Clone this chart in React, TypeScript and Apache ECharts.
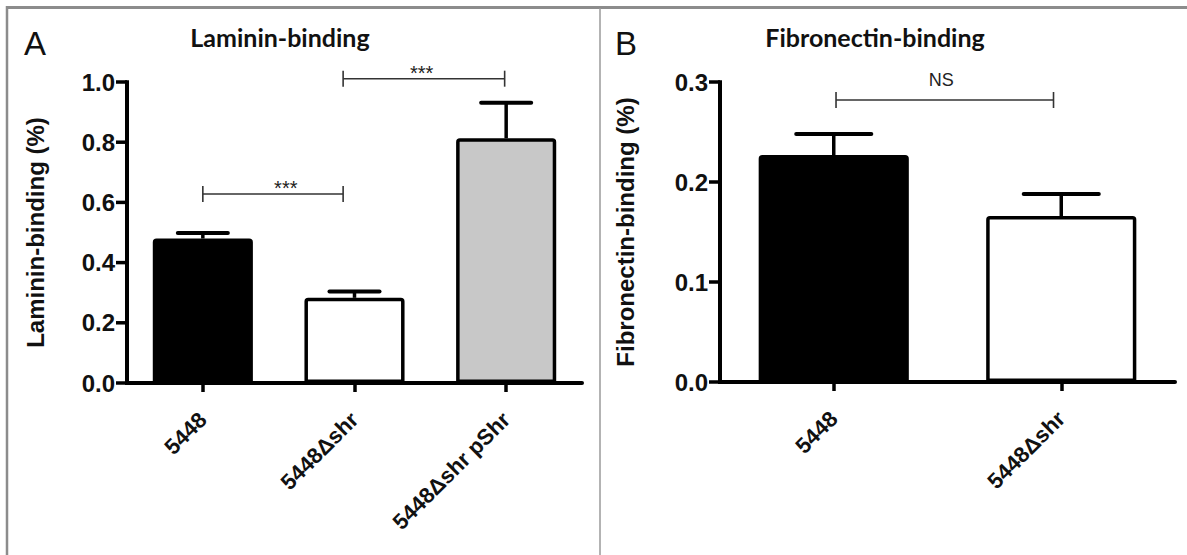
import React, { useEffect, useRef } from "react";
import * as echarts from "echarts";

// ---------- data ----------
const catsA = ["5448", "5448Δshr", "5448Δshr pShr"];
const meanA = [0.48, 0.283, 0.813];
const errA = [0.018, 0.021, 0.118];
const yTicksA = [0, 0.2, 0.4, 0.6, 0.8, 1.0];
const catsB = ["5448", "5448Δshr"];
const meanB = [0.227, 0.166];
const errB = [0.021, 0.022];
const yTicksB = [0, 0.1, 0.2, 0.3];
// brackets: [fromIndex, yValue, toIndex, labelIndexPosition]
const bracketsA = [
  [0, 0.628, 0.925, 0.547],
  [0.925, 1.011, 1.99, 1.443],
];
const bracketLabelsA = ["***", "***"];
const bracketsB = [[0.01, 0.282, 0.966, 0.472]];
const bracketLabelsB = ["NS"];
const colorsA = ["#000000", "#ffffff", "#c8c8c8"];
const colorsB = ["#000000", "#ffffff"];

const FONT = "Liberation Sans, Arial, Helvetica, sans-serif";

function errorRender(params: any, api: any) {
  const i = api.value(0);
  const v = api.value(1);
  const e = api.value(2);
  const base = api.coord([i, v]);
  const top = api.coord([i, v + e]);
  const half = (api.size([1, 0])[0] * 0.33) / 2;
  return {
    type: "group",
    children: [
      { type: "line", shape: { x1: base[0], y1: base[1], x2: top[0], y2: top[1] }, style: { stroke: "#000", lineWidth: 3.5 } },
      { type: "line", shape: { x1: top[0] - half, y1: top[1], x2: top[0] + half, y2: top[1] }, style: { stroke: "#000", lineWidth: 4, lineCap: "round" } },
    ],
  };
}

// y axis line + ticks drawn from the tick values through the axis scale
function yAxisRender(ticks: number[]) {
  const maxT = ticks[ticks.length - 1];
  return (params: any, api: any) => {
    const t = api.value(1);
    const p = api.coord([0, t]);
    const band = api.size([1, 0])[0];
    const x0 = p[0] - band / 2;
    const children: any[] = [
      { type: "line", shape: { x1: x0 - 11, y1: p[1], x2: x0, y2: p[1] }, style: { stroke: "#000", lineWidth: 3.5 } },
    ];
    if (params.dataIndex === 0) {
      const top = api.coord([0, maxT]);
      children.push({ type: "line", shape: { x1: x0, y1: p[1] + 2, x2: x0, y2: top[1] - 1.75 }, style: { stroke: "#000", lineWidth: 4 } });
    }
    return { type: "group", children };
  };
}

function bracketRender(labels: string[]) {
  return (params: any, api: any) => {
    const y = api.value(1);
    const origin = api.coord([0, y]);
    const band = api.size([1, 0])[0];
    const xa = origin[0] + api.value(0) * band;
    const xb = origin[0] + api.value(2) * band;
    const xl = origin[0] + api.value(3) * band;
    const py = origin[1];
    const label = labels[params.dataIndex];
    const isNS = label === "NS";
    const st = { stroke: "#333", lineWidth: 1.6 };
    return {
      type: "group",
      children: [
        { type: "line", shape: { x1: xa, y1: py, x2: xb, y2: py }, style: st },
        { type: "line", shape: { x1: xa, y1: py - 8, x2: xa, y2: py + 8 }, style: st },
        { type: "line", shape: { x1: xb, y1: py - 8, x2: xb, y2: py + 8 }, style: st },
        {
          type: "text",
          x: xl,
          y: py - (isNS ? 20 : 6),
          style: { text: label, fill: "#222", font: `${isNS ? 18 : 20}px ${FONT}`, align: "center", verticalAlign: "middle" },
        },
      ],
    };
  };
}

function yAxisCfg(gridIndex: number, ticks: number[], name: string, nameGap: number) {
  return {
    type: "value",
    gridIndex,
    position: "left",
    min: ticks[0],
    max: ticks[ticks.length - 1],
    interval: ticks[1] - ticks[0],
    name,
    nameLocation: "middle",
    nameGap,
    nameTextStyle: { fontFamily: FONT, fontWeight: "bold", fontSize: 24, color: "#111" },
    axisLine: { show: false, onZero: false },
    axisTick: { show: false },
    splitLine: { show: false },
    axisLabel: { fontFamily: FONT, fontWeight: "bold", fontSize: 24, color: "#111", margin: 12, formatter: (v: number) => v.toFixed(1) },
  };
}

function xCatCfg(gridIndex: number, cats: string[]) {
  return {
    type: "category",
    gridIndex,
    position: "bottom",
    data: cats,
    axisLine: { show: true, onZero: false, lineStyle: { color: "#000", width: 4 } },
    axisTick: { show: true, alignWithLabel: true, length: 9, lineStyle: { color: "#000", width: 3.5 } },
    axisLabel: { interval: 0, rotate: 45, margin: 33, fontFamily: FONT, fontWeight: "bold", fontSize: 22, color: "#111" },
  };
}

const option: any = {
  animation: false,
  backgroundColor: "#fff",
  grid: [
    { left: 127, top: 82, width: 455, height: 301 },
    { left: 720, top: 82, width: 455, height: 300 },
  ],
  xAxis: [xCatCfg(0, catsA), xCatCfg(1, catsB)],
  yAxis: [yAxisCfg(0, yTicksA, "Laminin-binding (%)", 80), yAxisCfg(1, yTicksB, "Fibronectin-binding (%)", 83)],
  series: [
    {
      type: "bar", xAxisIndex: 0, yAxisIndex: 0, barWidth: "66%",
      data: meanA.map((v, i) => ({ value: v, itemStyle: { color: colorsA[i] } })),
      itemStyle: { borderColor: "#000", borderWidth: 3.5, borderRadius: [2, 2, 0, 0] },
    },
    {
      type: "bar", xAxisIndex: 1, yAxisIndex: 1, barWidth: "66%",
      data: meanB.map((v, i) => ({ value: v, itemStyle: { color: colorsB[i] } })),
      itemStyle: { borderColor: "#000", borderWidth: 3.5, borderRadius: [2, 2, 0, 0] },
    },
    { type: "custom", xAxisIndex: 0, yAxisIndex: 0, renderItem: errorRender, data: meanA.map((v, i) => [i, v, errA[i]]), z: 5 },
    { type: "custom", xAxisIndex: 1, yAxisIndex: 1, renderItem: errorRender, data: meanB.map((v, i) => [i, v, errB[i]]), z: 5 },
    { type: "custom", xAxisIndex: 0, yAxisIndex: 0, renderItem: yAxisRender(yTicksA), data: yTicksA.map((t) => [0, t]), z: 6, clip: false, silent: true },
    { type: "custom", xAxisIndex: 1, yAxisIndex: 1, renderItem: yAxisRender(yTicksB), data: yTicksB.map((t) => [0, t]), z: 6, clip: false, silent: true },
    { type: "custom", xAxisIndex: 0, yAxisIndex: 0, renderItem: bracketRender(bracketLabelsA), data: bracketsA, z: 5 },
    { type: "custom", xAxisIndex: 1, yAxisIndex: 1, renderItem: bracketRender(bracketLabelsB), data: bracketsB, z: 5 },
  ],
  graphic: [
    { type: "line", shape: { x1: 6, y1: 7.5, x2: 1187, y2: 7.5 }, style: { stroke: "#8c8c8c", lineWidth: 3 } },
    { type: "line", shape: { x1: 7, y1: 6, x2: 7, y2: 555 }, style: { stroke: "#8c8c8c", lineWidth: 2.5 } },
    { type: "line", shape: { x1: 600, y1: 8, x2: 600, y2: 555 }, style: { stroke: "#9a9a9a", lineWidth: 1.5 } },
    { type: "text", x: 24, y: 43, style: { text: "A", font: `33px ${FONT}`, fill: "#111", align: "left", verticalAlign: "middle" } },
    { type: "text", x: 615, y: 43, style: { text: "B", font: `33px ${FONT}`, fill: "#111", align: "left", verticalAlign: "middle" } },
    { type: "text", x: 280, y: 37, style: { text: "Laminin-binding", font: `bold 25px Lato, 'Open Sans', sans-serif`, fill: "#111", align: "center", verticalAlign: "middle" } },
    { type: "text", x: 875, y: 37, style: { text: "Fibronectin-binding", font: `bold 25px Lato, 'Open Sans', sans-serif`, fill: "#111", align: "center", verticalAlign: "middle" } },
  ],
};

export default function App() {
  const ref = useRef<HTMLDivElement>(null);
  useEffect(() => {
    document.body.style.margin = "0";
    const chart = echarts.init(ref.current as HTMLDivElement, null, { renderer: "svg" });
    chart.setOption(option);
    return () => chart.dispose();
  }, []);
  return <div ref={ref} style={{ position: "absolute", left: 0, top: 0, width: 1187, height: 555, background: "#fff" }} />;
}
